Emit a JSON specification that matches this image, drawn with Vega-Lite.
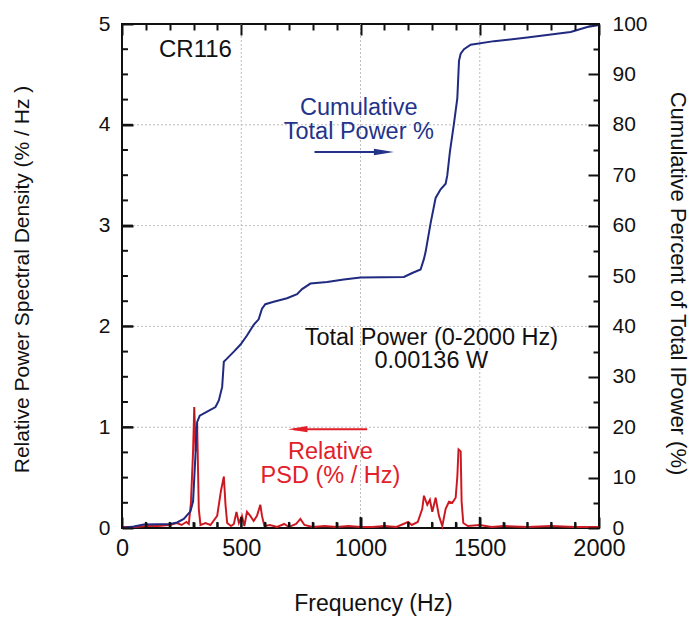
{
  "$schema": "https://vega.github.io/schema/vega-lite/v6.json",
  "autosize": {"type": "none"},
  "padding": {"left": 122, "top": 24, "right": 99, "bottom": 92},
  "width": 477,
  "height": 504,
  "background": "#ffffff",
  "datasets": {
    "psd": [
      {"freq": 0, "psd": 0.01}, {"freq": 50, "psd": 0.01}, {"freq": 100, "psd": 0.02}, {"freq": 150, "psd": 0.02},
      {"freq": 200, "psd": 0.03}, {"freq": 230, "psd": 0.05}, {"freq": 250, "psd": 0.03}, {"freq": 270, "psd": 0.06},
      {"freq": 280, "psd": 0.04}, {"freq": 289, "psd": 0.25}, {"freq": 298, "psd": 0.76}, {"freq": 303, "psd": 1.2},
      {"freq": 309, "psd": 0.76}, {"freq": 315, "psd": 1.04}, {"freq": 322, "psd": 0.19}, {"freq": 329, "psd": 0.03},
      {"freq": 350, "psd": 0.05}, {"freq": 371, "psd": 0.03}, {"freq": 399, "psd": 0.12}, {"freq": 415, "psd": 0.37},
      {"freq": 427, "psd": 0.51}, {"freq": 434, "psd": 0.23}, {"freq": 441, "psd": 0.05}, {"freq": 457, "psd": 0.02},
      {"freq": 469, "psd": 0.04}, {"freq": 480, "psd": 0.16}, {"freq": 490, "psd": 0.05}, {"freq": 503, "psd": 0.12},
      {"freq": 513, "psd": 0.02}, {"freq": 524, "psd": 0.16}, {"freq": 538, "psd": 0.12}, {"freq": 552, "psd": 0.07},
      {"freq": 566, "psd": 0.12}, {"freq": 580, "psd": 0.23}, {"freq": 587, "psd": 0.12}, {"freq": 597, "psd": 0.02},
      {"freq": 620, "psd": 0.03}, {"freq": 650, "psd": 0.01}, {"freq": 680, "psd": 0.04}, {"freq": 700, "psd": 0.01},
      {"freq": 730, "psd": 0.04}, {"freq": 748, "psd": 0.09}, {"freq": 765, "psd": 0.03}, {"freq": 800, "psd": 0.01},
      {"freq": 850, "psd": 0.02}, {"freq": 900, "psd": 0.01}, {"freq": 950, "psd": 0.02}, {"freq": 1000, "psd": 0.01},
      {"freq": 1050, "psd": 0.01}, {"freq": 1100, "psd": 0.02}, {"freq": 1150, "psd": 0.01}, {"freq": 1180, "psd": 0.04},
      {"freq": 1200, "psd": 0.06}, {"freq": 1215, "psd": 0.03}, {"freq": 1240, "psd": 0.06}, {"freq": 1259, "psd": 0.19},
      {"freq": 1266, "psd": 0.32}, {"freq": 1280, "psd": 0.23}, {"freq": 1291, "psd": 0.28}, {"freq": 1301, "psd": 0.16},
      {"freq": 1315, "psd": 0.3}, {"freq": 1329, "psd": 0.12}, {"freq": 1343, "psd": 0.02}, {"freq": 1357, "psd": 0.19},
      {"freq": 1371, "psd": 0.26}, {"freq": 1385, "psd": 0.25}, {"freq": 1399, "psd": 0.3}, {"freq": 1406, "psd": 0.51},
      {"freq": 1411, "psd": 0.78}, {"freq": 1420, "psd": 0.76}, {"freq": 1424, "psd": 0.26}, {"freq": 1431, "psd": 0.05},
      {"freq": 1450, "psd": 0.02}, {"freq": 1500, "psd": 0.03}, {"freq": 1550, "psd": 0.01}, {"freq": 1600, "psd": 0.02},
      {"freq": 1700, "psd": 0.01}, {"freq": 1800, "psd": 0.02}, {"freq": 1900, "psd": 0.01}, {"freq": 2000, "psd": 0.01}
    ],
    "cum": [
      {"freq": 0, "cum": 0}, {"freq": 50, "cum": 0.3}, {"freq": 91, "cum": 0.7}, {"freq": 203, "cum": 0.8},
      {"freq": 231, "cum": 1.1}, {"freq": 259, "cum": 1.8}, {"freq": 287, "cum": 3.3}, {"freq": 298, "cum": 5.3},
      {"freq": 308, "cum": 14.5}, {"freq": 315, "cum": 21}, {"freq": 326, "cum": 22.3}, {"freq": 357, "cum": 23.1},
      {"freq": 392, "cum": 24}, {"freq": 406, "cum": 25.3}, {"freq": 420, "cum": 28}, {"freq": 427, "cum": 33},
      {"freq": 438, "cum": 33.5}, {"freq": 469, "cum": 35}, {"freq": 497, "cum": 36.4}, {"freq": 524, "cum": 38.2},
      {"freq": 552, "cum": 40.3}, {"freq": 573, "cum": 41.4}, {"freq": 587, "cum": 43.5}, {"freq": 601, "cum": 44.4},
      {"freq": 636, "cum": 44.9}, {"freq": 692, "cum": 45.6}, {"freq": 734, "cum": 46.4}, {"freq": 755, "cum": 47.4},
      {"freq": 790, "cum": 48.5}, {"freq": 860, "cum": 48.8}, {"freq": 930, "cum": 49.3}, {"freq": 1000, "cum": 49.7},
      {"freq": 1182, "cum": 49.8}, {"freq": 1217, "cum": 50.6}, {"freq": 1252, "cum": 51.3}, {"freq": 1266, "cum": 53.4},
      {"freq": 1273, "cum": 54.8}, {"freq": 1294, "cum": 60.5}, {"freq": 1315, "cum": 65.5}, {"freq": 1336, "cum": 67.2},
      {"freq": 1357, "cum": 68.3}, {"freq": 1364, "cum": 70}, {"freq": 1375, "cum": 74.7}, {"freq": 1392, "cum": 80.3},
      {"freq": 1406, "cum": 85.3}, {"freq": 1413, "cum": 92.7}, {"freq": 1420, "cum": 94.1}, {"freq": 1434, "cum": 95},
      {"freq": 1462, "cum": 95.9}, {"freq": 1560, "cum": 96.6}, {"freq": 1699, "cum": 97.3}, {"freq": 1881, "cum": 98.4},
      {"freq": 1951, "cum": 99.4}, {"freq": 2000, "cum": 99.8}
    ],
    "xgrid": [{"g": 500}, {"g": 1000}, {"g": 1500}],
    "ygrid": [{"g": 1}, {"g": 2}, {"g": 3}, {"g": 4}],
    "xmaj": [{"v": 500}, {"v": 1000}, {"v": 1500}],
    "xmin": [{"v": 100}, {"v": 200}, {"v": 300}, {"v": 400}, {"v": 600}, {"v": 700}, {"v": 800}, {"v": 900}, {"v": 1100}, {"v": 1200}, {"v": 1300}, {"v": 1400}, {"v": 1600}, {"v": 1700}, {"v": 1800}, {"v": 1900}],
    "ymaj": [{"v": 1}, {"v": 2}, {"v": 3}, {"v": 4}],
    "ymin": [{"v": 0.25}, {"v": 0.5}, {"v": 0.75}, {"v": 1.25}, {"v": 1.5}, {"v": 1.75}, {"v": 2.25}, {"v": 2.5}, {"v": 2.75}, {"v": 3.25}, {"v": 3.5}, {"v": 3.75}, {"v": 4.25}, {"v": 4.5}, {"v": 4.75}]
  },
  "layer": [
    {
      "data": {"name": "xgrid"},
      "mark": {"type": "rule", "color": "#bdbdbd", "strokeWidth": 1, "strokeDash": [2, 2]},
      "encoding": {
        "x": {
          "field": "g", "type": "quantitative",
          "scale": {"domain": [0, 2000], "nice": false, "zero": false},
          "axis": {
            "orient": "bottom",
            "grid": false,
            "ticks": true,
            "values": [0,100,200,300,400,500,600,700,800,900,1000,1100,1200,1300,1400,1500,1600,1700,1800,1900,2000],
            "format": "d",
            "title": "Frequency (Hz)",
            "titleFontSize": 23,
            "titleX": 251,
            "titleY": 75,
            "titleBaseline": "middle",
            "tickSize": {"condition": {"test": "datum.value % 500 === 0", "value": -11}, "value": -6},
            "labelExpr": "datum.value % 500 === 0 ? datum.label : ''",
            "labelFontSize": 23.5,
            "labelPadding": 19,
            "labelFlush": false,
            "labelOverlap": false,
            "labelBound": false,
            "zindex": 2
          }
        }
      }
    },
    {
      "data": {"name": "ygrid"},
      "mark": {"type": "rule", "color": "#bdbdbd", "strokeWidth": 1, "strokeDash": [2, 2]},
      "encoding": {
        "y": {
          "field": "g", "type": "quantitative",
          "scale": {"domain": [0, 5], "nice": false},
          "axis": {
            "orient": "left",
            "grid": false,
            "ticks": true,
            "values": [0,0.25,0.5,0.75,1,1.25,1.5,1.75,2,2.25,2.5,2.75,3,3.25,3.5,3.75,4,4.25,4.5,4.75,5],
            "format": "d",
            "title": "Relative Power Spectral Density (% / Hz )",
            "titleFontSize": 21,
            "titleX": -100,
            "titleY": 255,
            "titleBaseline": "middle",
            "tickSize": {"condition": {"test": "datum.value % 1 === 0", "value": -11}, "value": -6},
            "labelExpr": "datum.value % 1 === 0 ? datum.label : ''",
            "labelFontSize": 21,
            "labelPadding": 23,
            "labelFlush": false,
            "labelOverlap": false,
            "labelBound": false,
            "zindex": 2
          }
        }
      }
    },
    {
      "data": {"name": "psd"},
      "mark": {"type": "line", "color": "#e3202a", "strokeWidth": 2},
      "encoding": {
        "x": {"field": "freq", "type": "quantitative", "axis": null},
        "y": {"field": "psd", "type": "quantitative", "scale": {"domain": [0, 5], "nice": false}, "axis": null}
      }
    },
    {
      "data": {"name": "psd"},
      "mark": {"type": "line", "color": "#5a0c10", "strokeWidth": 0.5, "opacity": 0.6},
      "encoding": {
        "x": {"field": "freq", "type": "quantitative", "axis": null},
        "y": {"field": "psd", "type": "quantitative", "scale": {"domain": [0, 5], "nice": false}, "axis": null}
      }
    },
    {
      "data": {"name": "cum"},
      "mark": {"type": "line", "color": "#1f2a80", "strokeWidth": 2},
      "encoding": {
        "x": {
          "field": "freq", "type": "quantitative",
          "axis": {
            "orient": "top",
            "grid": false,
            "ticks": true,
            "values": [0,100,200,300,400,500,600,700,800,900,1000,1100,1200,1300,1400,1500,1600,1700,1800,1900,2000],
            "title": null,
            "labels": false,
            "tickSize": {"condition": {"test": "datum.value % 500 === 0", "value": -11}, "value": -6},
            "zindex": 2
          }
        },
        "y": {
          "field": "cum", "type": "quantitative",
          "scale": {"domain": [0, 100], "nice": false},
          "axis": {
            "orient": "right",
            "grid": false,
            "ticks": true,
            "values": [0,5,10,15,20,25,30,35,40,45,50,55,60,65,70,75,80,85,90,95,100],
            "format": "d",
            "title": "Cumulative Percent of Total IPower (%)",
            "titleFontSize": 22,
            "titleX": 78,
            "titleY": 259,
            "titleBaseline": "middle",
            "tickSize": {"condition": {"test": "datum.value % 10 === 0", "value": -11}, "value": -6},
            "labelExpr": "datum.value % 10 === 0 ? datum.label : ''",
            "labelFontSize": 21,
            "labelPadding": 24,
            "labelFlush": false,
            "labelOverlap": false,
            "labelBound": false,
            "zindex": 2
          }
        }
      }
    },
    {
      "data": {"values": [{}]},
      "mark": {"type": "text", "text": "CR116", "font": "Liberation Sans", "fontSize": 24, "color": "#111", "align": "center", "baseline": "middle"},
      "encoding": {"x": {"datum": 308, "type": "quantitative", "axis": null}, "y": {"datum": 4.74, "type": "quantitative", "scale": {"domain": [0, 5], "nice": false}, "axis": null}}
    },
    {
      "data": {"values": [{}]},
      "mark": {"type": "text", "text": ["Cumulative", "Total Power %"], "lineHeight": 24, "font": "Liberation Sans", "fontSize": 23.5, "color": "#24338a", "align": "center", "baseline": "middle"},
      "encoding": {"x": {"datum": 993, "type": "quantitative", "axis": null}, "y": {"datum": 4.17, "type": "quantitative", "scale": {"domain": [0, 5], "nice": false}, "axis": null}}
    },
    {
      "data": {"values": [{}]},
      "mark": {"type": "text", "text": ["Total Power (0-2000 Hz)", "0.00136 W"], "lineHeight": 23, "font": "Liberation Sans", "fontSize": 23.5, "color": "#111", "align": "center", "baseline": "middle"},
      "encoding": {"x": {"datum": 1297, "type": "quantitative", "axis": null}, "y": {"datum": 1.88, "type": "quantitative", "scale": {"domain": [0, 5], "nice": false}, "axis": null}}
    },
    {
      "data": {"values": [{}]},
      "mark": {"type": "text", "text": ["Relative", "PSD (% / Hz)"], "lineHeight": 24, "font": "Liberation Sans", "fontSize": 23.5, "color": "#e3202a", "align": "center", "baseline": "middle"},
      "encoding": {"x": {"datum": 874, "type": "quantitative", "axis": null}, "y": {"datum": 0.755, "type": "quantitative", "scale": {"domain": [0, 5], "nice": false}, "axis": null}}
    },
    {
      "data": {"values": [{}]},
      "mark": {"type": "rule", "color": "#24338a", "strokeWidth": 2},
      "encoding": {"x": {"datum": 807, "type": "quantitative", "axis": null}, "x2": {"datum": 1080}, "y": {"datum": 3.73, "type": "quantitative", "scale": {"domain": [0, 5], "nice": false}, "axis": null}}
    },
    {
      "data": {"values": [{}]},
      "mark": {"type": "point", "shape": "M-1,-0.32L1,0L-1,0.32Z", "size": 400, "filled": true, "opacity": 1, "color": "#24338a"},
      "encoding": {"x": {"datum": 1098, "type": "quantitative", "axis": null}, "y": {"datum": 3.73, "type": "quantitative", "scale": {"domain": [0, 5], "nice": false}, "axis": null}}
    },
    {
      "data": {"values": [{}]},
      "mark": {"type": "rule", "color": "#e3202a", "strokeWidth": 2},
      "encoding": {"x": {"datum": 720, "type": "quantitative", "axis": null}, "x2": {"datum": 1028}, "y": {"datum": 0.98, "type": "quantitative", "scale": {"domain": [0, 5], "nice": false}, "axis": null}}
    },
    {
      "data": {"values": [{}]},
      "mark": {"type": "point", "shape": "M1,-0.32L-1,0L1,0.32Z", "size": 380, "filled": true, "opacity": 1, "color": "#e3202a"},
      "encoding": {"x": {"datum": 737, "type": "quantitative", "axis": null}, "y": {"datum": 0.98, "type": "quantitative", "scale": {"domain": [0, 5], "nice": false}, "axis": null}}
    },
    {
      "data": {"name": "xmaj"},
      "mark": {"type": "rule", "color": "#111", "strokeWidth": 2},
      "encoding": {
        "x": {"field": "v", "type": "quantitative", "axis": null},
        "y": {"datum": 0, "type": "quantitative", "scale": {"domain": [0, 5], "nice": false}, "axis": null},
        "y2": {"datum": 0.109}
      }
    },
    {
      "data": {"name": "xmin"},
      "mark": {"type": "rule", "color": "#111", "strokeWidth": 2},
      "encoding": {
        "x": {"field": "v", "type": "quantitative", "axis": null},
        "y": {"datum": 0, "type": "quantitative", "scale": {"domain": [0, 5], "nice": false}, "axis": null},
        "y2": {"datum": 0.06}
      }
    },
    {
      "data": {"name": "ymaj"},
      "mark": {"type": "rule", "color": "#111", "strokeWidth": 2},
      "encoding": {
        "x": {"datum": 0, "type": "quantitative", "axis": null},
        "x2": {"datum": 46},
        "y": {"field": "v", "type": "quantitative", "scale": {"domain": [0, 5], "nice": false}, "axis": null}
      }
    },
    {
      "data": {"name": "ymin"},
      "mark": {"type": "rule", "color": "#111", "strokeWidth": 2},
      "encoding": {
        "x": {"datum": 0, "type": "quantitative", "axis": null},
        "x2": {"datum": 25},
        "y": {"field": "v", "type": "quantitative", "scale": {"domain": [0, 5], "nice": false}, "axis": null}
      }
    }
  ],
  "resolve": {"scale": {"y": "independent"}, "axis": {"x": "independent", "y": "independent"}},
  "config": {
    "view": {"stroke": "#111", "strokeWidth": 2},
    "axis": {
      "labelFont": "Liberation Sans",
      "titleFont": "Liberation Sans",
      "labelColor": "#111",
      "titleColor": "#111",
      "titleFontWeight": "normal",
      "domain": false,
      "ticks": true,
      "tickColor": "#111",
      "tickWidth": 2
    }
  }
}
